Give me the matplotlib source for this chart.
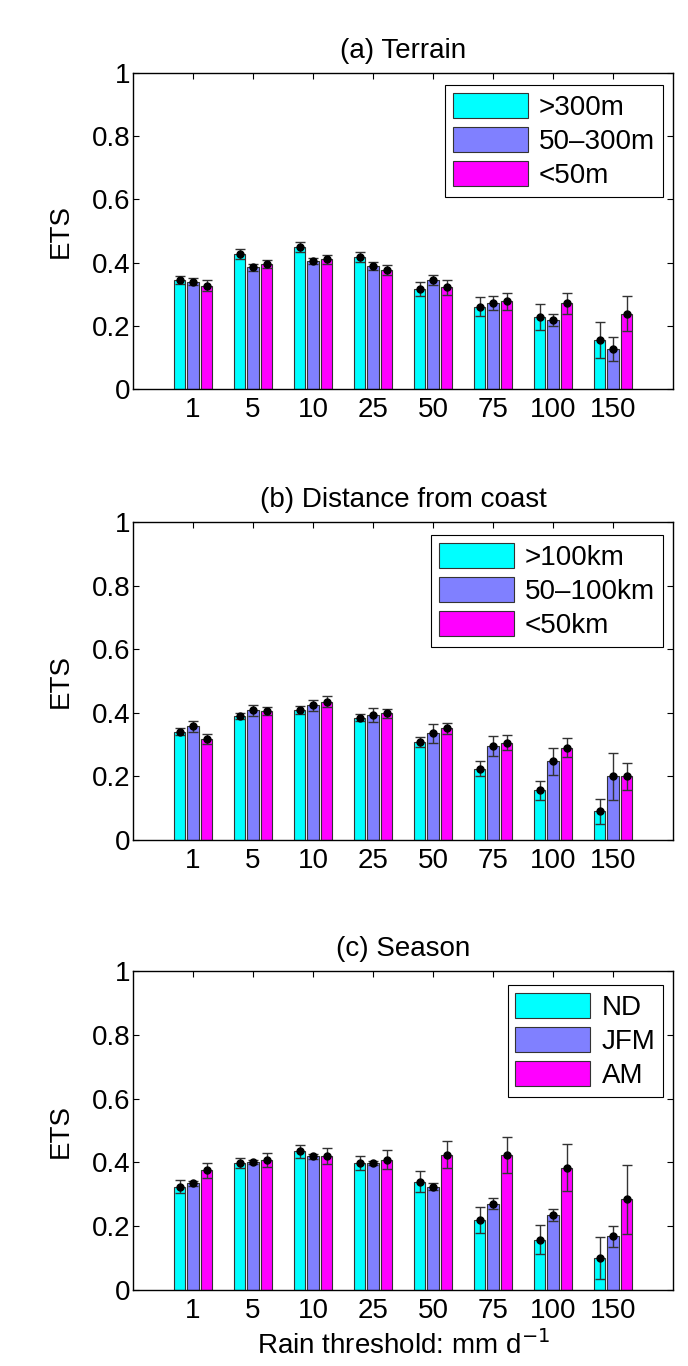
import matplotlib
matplotlib.use("Agg")
import matplotlib.pyplot as plt
import numpy as np

plt.rcParams['font.family'] = ['Liberation Sans', 'DejaVu Sans']

thresholds = ['1', '5', '10', '25', '50', '75', '100', '150']

# (a) Terrain
terrain_labels = ['>300m', '50\u2013300m', '<50m']
terrain_hi = [0.345, 0.427, 0.450, 0.417, 0.316, 0.261, 0.228, 0.155]
terrain_mid = [0.340, 0.385, 0.406, 0.389, 0.345, 0.273, 0.218, 0.128]
terrain_lo = [0.327, 0.396, 0.410, 0.377, 0.322, 0.277, 0.271, 0.238]
terrain_hi_err = [0.012, 0.017, 0.016, 0.016, 0.022, 0.031, 0.040, 0.058]
terrain_mid_err = [0.010, 0.010, 0.010, 0.012, 0.017, 0.022, 0.018, 0.038]
terrain_lo_err = [0.017, 0.012, 0.014, 0.016, 0.024, 0.028, 0.034, 0.056]

# (b) Distance from coast
coast_labels = ['>100km', '50\u2013100km', '<50km']
coast_far = [0.340, 0.390, 0.408, 0.385, 0.308, 0.224, 0.156, 0.090]
coast_mid = [0.358, 0.408, 0.424, 0.393, 0.335, 0.296, 0.247, 0.200]
coast_near = [0.317, 0.406, 0.435, 0.398, 0.351, 0.306, 0.290, 0.200]
coast_far_err = [0.011, 0.010, 0.012, 0.012, 0.017, 0.023, 0.029, 0.040]
coast_mid_err = [0.017, 0.017, 0.017, 0.022, 0.029, 0.032, 0.042, 0.073]
coast_near_err = [0.016, 0.012, 0.017, 0.013, 0.017, 0.024, 0.030, 0.043]

# (c) Season
season_labels = ['ND', 'JFM', 'AM']
season_nd = [0.324, 0.398, 0.435, 0.398, 0.340, 0.219, 0.158, 0.100]
season_jfm = [0.335, 0.401, 0.419, 0.398, 0.324, 0.270, 0.235, 0.168]
season_am = [0.375, 0.408, 0.419, 0.408, 0.424, 0.424, 0.384, 0.285]
season_nd_err = [0.020, 0.017, 0.020, 0.022, 0.034, 0.040, 0.045, 0.067]
season_jfm_err = [0.008, 0.006, 0.008, 0.007, 0.012, 0.017, 0.020, 0.032]
season_am_err = [0.023, 0.022, 0.025, 0.030, 0.043, 0.056, 0.073, 0.108]

colors = ['#00FFFF', '#8080FF', '#FF00FF']

panels = [
    ('(a) Terrain', terrain_labels, [terrain_hi, terrain_mid, terrain_lo],
     [terrain_hi_err, terrain_mid_err, terrain_lo_err]),
    ('(b) Distance from coast', coast_labels, [coast_far, coast_mid, coast_near],
     [coast_far_err, coast_mid_err, coast_near_err]),
    ('(c) Season', season_labels, [season_nd, season_jfm, season_am],
     [season_nd_err, season_jfm_err, season_am_err]),
]

fig = plt.figure(figsize=(6.88, 13.66), dpi=100)
W, H = 688.0, 1366.0
ax_px = [(133, 73, 673, 389), (133, 522, 673, 840), (133, 971, 673, 1290)]
leg_anchor = [(663, 85), (663, 535), (663, 985)]

x = np.arange(1, len(thresholds) + 1)
offsets = [-0.225, 0.0, 0.225]
bw = 0.19
fs = 20

for i, (title, labels, series, errs) in enumerate(panels):
    l, t, r, b = ax_px[i]
    ax = fig.add_axes([l / W, 1 - b / H, (r - l) / W, (b - t) / H])
    handles = []
    for k in range(3):
        h = ax.bar(x + offsets[k], series[k], width=bw, color=colors[k],
                   edgecolor='#333333', linewidth=0.8, label=labels[k], zorder=2)
        handles.append(h)
        ax.errorbar(x + offsets[k], series[k], yerr=errs[k], fmt='o',
                    color='black', ecolor='#333333', elinewidth=1.0,
                    capsize=3.5, capthick=1.0, markersize=5, zorder=3)
    ax.set_xlim(0, 9)
    ax.set_ylim(0, 1)
    ax.set_xticks(x)
    ax.set_xticklabels(thresholds)
    ax.set_yticks([0, 0.2, 0.4, 0.6, 0.8, 1])
    ax.set_yticklabels(['0', '0.2', '0.4', '0.6', '0.8', '1'])
    ax.tick_params(direction='in', top=True, right=True, labelsize=fs,
                   length=4, width=0.8)
    ax.tick_params(axis='y', pad=2)
    ax.tick_params(axis='x', pad=6)
    for sp in ax.spines.values():
        sp.set_linewidth(1.0)
    ax.set_ylabel('ETS', fontsize=fs)
    ax.yaxis.set_label_coords(-0.11, 0.5)
    ax.set_title(title, fontsize=fs, pad=11)
    ax_, ay_ = leg_anchor[i]
    leg = ax.legend(handles=handles, labels=labels, loc='upper right',
                    bbox_to_anchor=(ax_ / W, 1 - ay_ / H),
                    bbox_transform=fig.transFigure, fontsize=fs,
                    handlelength=2.7, handleheight=1.0, handletextpad=0.4,
                    labelspacing=0.22, borderpad=0.28, borderaxespad=0,
                    fancybox=False, framealpha=1, edgecolor='black')
    leg.get_frame().set_linewidth(0.8)
    if i == 2:
        ax.set_xlabel('Rain threshold: mm d$^{-1}$', fontsize=fs, labelpad=4)

fig.savefig('out.png', dpi=100)
